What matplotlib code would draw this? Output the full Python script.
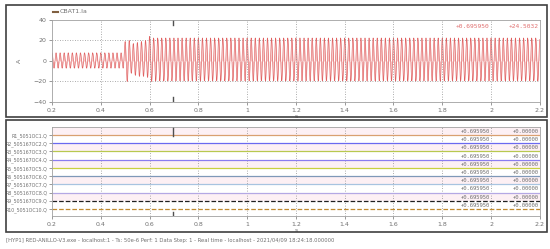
import numpy as np
import matplotlib.pyplot as plt
from matplotlib.patches import Rectangle

# top trace CBAT1.Ia : 60 Hz current, envelope read per segment
freq = 60.0
t_start, t_end = 0.2, 2.2
# segment boundaries (s) and peak / trough values (A) per cycle (last value repeats)
seg_times = [0.2, 0.5, 0.6, 2.2]
seg_peaks = [[8.0], [19.0, 20.0, 17.0, 18.0, 19.0, 20.0], [24.0, 22.5, 22.5, 22.5]]
seg_troughs = [[-7.0], [-20.0, -12.0, -14.0, -15.0, -15.0, -16.0], [-20.0, -19.5, -19.5, -19.5]]

cursor_t = 0.695950
cursor_val = "+24.5032"

# bottom panel: breaker status signals
row_labels = ["R1_5051OC1.Q", "R2_505167OC2.Q", "R3_505167OC3.Q", "R4_505167OC4.Q",
              "R5_505167OC5.Q", "R6_505167OC6.Q", "R7_505167OC7.Q", "R8_505167OC8.Q",
              "R9_505167OC9.Q", "R10_5051OC10.Q"]
row_values = [0.0] * 10
row_colors = ["#d9a070", "#6a6af0", "#b8c850", "#8a7cf0", "#c8d040",
              "#7f98b8", "#a8c4e0", "#b4a8e4", "#202020", "#c08a30"]
row_styles = ["-"] * 8 + ["--", "--"]

x_ticks = [0.2, 0.4, 0.6, 0.8, 1.0, 1.2, 1.4, 1.6, 1.8, 2.0, 2.2]
x_ticklabels = ["0.2", "0.4", "0.6", "0.8", "1", "1.2", "1.4", "1.6", "1.8", "2", "2.2"]

footer = ("[HYP1] RED-ANILLO-V3.exe - localhost:1 - Ts: 50e-6 Perf: 1 Data Step: 1 - "
          "Real time - localhost - 2021/04/09 18:24:18.000000")

# build the waveform: extremes every half cycle, cosine shape in between
half = 1.0 / freq / 2
ext_t, ext_v = [], []
for k in range(3):
    a, b = seg_times[k], seg_times[k + 1]
    n_half = int(round((b - a) / half))
    for j in range(n_half):
        c = min(j // 2, len(seg_peaks[k]) - 1)
        ext_t.append(a + j * half)
        ext_v.append(seg_peaks[k][c] if j % 2 == 0 else seg_troughs[k][c])
ext_t.append(t_end)
ext_v.append(ext_v[-2])
tt, yy = [], []
for j in range(len(ext_t) - 1):
    s = np.linspace(0, 1, 8, endpoint=False)
    w = (1 - np.cos(np.pi * s)) / 2
    tt.extend(ext_t[j] + s * (ext_t[j + 1] - ext_t[j]))
    yy.extend(ext_v[j] + w * (ext_v[j + 1] - ext_v[j]))
tt = np.array(tt)
yy = np.array(yy)

grey = "#707070"
plt.rcParams['font.family'] = ['DejaVu Sans']
fig = plt.figure(figsize=(5.5, 2.49), dpi=100)

# outer frames
for y0 in [0.530, 0.068]:
    fig.patches.append(Rectangle((0.011, y0), 0.984, 0.45, transform=fig.transFigure,
                                 fill=False, edgecolor="#404040", linewidth=1.2))

# ---- top panel
ax1 = fig.add_axes([0.0945, 0.5904, 0.887, 0.3293])
ax1.fill_between(tt, yy, 0, color="#f6c4c4", linewidth=0, zorder=1)
ax1.plot(tt, yy, color="#e06060", linewidth=0.45, zorder=2)
ax1.set_xlim(t_start, t_end)
ax1.set_ylim(-40, 40)
ax1.set_yticks([-40, -20, 0, 20, 40])
ax1.set_xticks(x_ticks)
ax1.set_xticklabels(x_ticklabels)
ax1.set_ylabel("A", fontsize=4.5, color=grey, labelpad=8)
ax1.set_xlabel("s", fontsize=4.5, color=grey, labelpad=1)
for v in x_ticks[1:-1]:
    ax1.axvline(v, color="#909090", linestyle=(0, (1, 2)), linewidth=0.6, zorder=3)
for v in [-20, 20]:
    ax1.axhline(v, color="#909090", linestyle=(0, (1, 2)), linewidth=0.6, zorder=0)
ax1.axvline(cursor_t, ymin=0.0, ymax=0.06, color="#505050", linewidth=1)
ax1.axvline(cursor_t, ymin=0.94, ymax=1.0, color="#505050", linewidth=1)
ax1.text(1.995, 34, f"+{cursor_t:.6f}", ha="right", va="center", fontsize=4.5,
         color="#e07070", family="DejaVu Sans Mono")
ax1.text(2.195, 34, cursor_val, ha="right", va="center", fontsize=4.5,
         color="#e07070", family="DejaVu Sans Mono")
fig.lines.append(plt.Line2D([0.097, 0.106], [0.952, 0.952], transform=fig.transFigure,
                            color="#806040", linewidth=1.5))
fig.text(0.109, 0.952, "CBAT1.Ia", fontsize=4.5, color=grey, va="center")

# ---- bottom panel
ax2 = fig.add_axes([0.0945, 0.1325, 0.887, 0.3575])
for i in range(len(row_labels)):
    if i % 2 == 0:
        ax2.axhspan(i - 0.98, i, color="#fdf0f4", zorder=0, linewidth=0)
    ax2.plot([t_start, t_end], [i + row_values[i], i + row_values[i]],
             color=row_colors[i], linestyle=row_styles[i], linewidth=0.9)
    ax2.text(1.995, i - 0.45, f"+{cursor_t:.6f}", ha="right", va="center", fontsize=4,
             color=grey, family="DejaVu Sans Mono")
    ax2.text(2.195, i - 0.45, f"+{row_values[i]:.5f}", ha="right", va="center", fontsize=4,
             color=grey, family="DejaVu Sans Mono")
ax2.set_xlim(t_start, t_end)
ax2.set_ylim(9.85, -0.98)
ax2.set_yticks(range(len(row_labels)))
ax2.set_yticklabels(row_labels, fontsize=3.4)
ax2.set_xticks(x_ticks)
ax2.set_xticklabels(x_ticklabels)
ax2.set_xlabel("s", fontsize=4.5, color=grey, labelpad=1)
for v in x_ticks[1:-1]:
    ax2.axvline(v, color="#909090", linestyle=(0, (1, 2)), linewidth=0.6, zorder=0.5)
ax2.axvline(cursor_t, ymin=0.0, ymax=0.05, color="#505050", linewidth=1)
ax2.axvline(cursor_t, ymin=0.9, ymax=1.0, color="#505050", linewidth=1)

for ax in (ax1, ax2):
    ax.tick_params(colors=grey, length=2, width=0.5, pad=2)
    ax.tick_params(axis="x", labelsize=4.5)
    for s in ax.spines.values():
        s.set_color("#a0a0a0")
        s.set_linewidth(0.6)
ax1.tick_params(axis="y", labelsize=4.5)
ax2.tick_params(axis="y", pad=1)

fig.text(0.011, 0.036, footer, fontsize=3.8, color=grey, va="center")

fig.savefig("out.png", dpi=100)
